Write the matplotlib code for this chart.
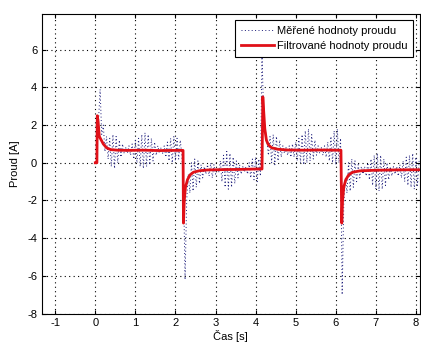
import matplotlib
matplotlib.use("Agg")
import matplotlib.pyplot as plt
import numpy as np

plt.rcParams['font.family'] = ['Liberation Sans', 'DejaVu Sans']
plt.rcParams['axes.unicode_minus'] = False

# measured current, sampled every 0.04 s, split in the four half-periods
dt = 0.04
seg_start = [0.04, 2.20, 4.16, 6.16]
meas_seg1 = [1.2, 2.2, 3.9, 1.5, 2.0, 0.6, 1.4, 0.2, 1.3, -0.2, 1.5, -0.3, 1.4, 0.0, 1.2, 0.3,
             1.0, 0.5, 0.8, 0.5, 0.9, 0.4, 1.0, 0.2, 1.2, 0.0, 1.3, -0.2, 1.5, -0.3, 1.6, -0.2,
             1.5, -0.1, 1.3, 0.1, 1.1, 0.4, 0.9, 0.5, 0.8, 0.5, 0.9, 0.3, 1.1, 0.1, 1.3, 0.0,
             1.4, 0.1, 1.3, 0.2, 1.2, 0.4]
meas_seg2 = [-1.0, -6.2, -2.0, -0.6, -1.6, 0.0, -1.5, 0.2, -1.3, 0.1, -1.1, -0.1, -0.8, -0.2,
             -0.6, -0.1, -0.7, 0.0, -0.8, -0.1, -0.6, -0.3, -0.5, 0.1, -1.0, 0.4, -1.3, 0.6,
             -1.4, 0.5, -1.3, 0.3, -1.1, 0.1, -0.8, -0.1, -0.6, -0.2, -0.5, -0.2, -0.6, 0.0,
             -0.8, 0.2, -0.9, 0.3, -1.0, 0.2, -0.7]
meas_seg3 = [5.8, 2.5, 1.8, 1.2, 0.4, 1.4, 0.0, 1.5, -0.1, 1.4, 0.1, 1.2, 0.3, 0.9, 0.5, 0.8,
             0.4, 0.9, 0.3, 1.0, 0.3, 1.1, 0.1, 1.3, 0.0, 1.5, -0.1, 1.7, 0.0, 1.8, 0.1, 1.5,
             0.2, 1.2, 0.4, 0.9, 0.5, 0.8, 0.4, 0.9, 0.3, 1.1, 0.1, 1.4, 0.0, 1.7, -0.1, 1.8,
             0.0, 1.3]
meas_seg4 = [-7.0, -2.2, -0.8, -1.6, 0.0, -1.5, 0.2, -1.3, 0.1, -1.0, -0.1, -0.8, -0.2, -0.6,
             -0.2, -0.7, 0.0, -0.9, 0.2, -1.2, 0.4, -1.4, 0.5, -1.5, 0.4, -1.4, 0.2, -1.2,
             0.0, -0.9, -0.2, -0.7, -0.2, -0.6, -0.2, -0.7, -0.1, -0.8, 0.1, -1.0, 0.3, -1.2,
             0.4, -1.3, 0.5, -1.4, 0.3, -1.2, 0.1]

# filtered current (read at breakpoints)
t_filt = [0.0, 0.04, 0.05, 0.07, 0.10, 0.15, 0.20, 0.28, 0.38, 0.55, 0.8, 1.2, 1.6, 2.0, 2.19,
          2.20, 2.22, 2.25, 2.30, 2.36, 2.45, 2.6, 2.8, 3.2, 3.6, 4.0, 4.16,
          4.18, 4.20, 4.23, 4.27, 4.32, 4.40, 4.55, 4.8, 5.2, 5.6, 6.0, 6.13,
          6.15, 6.17, 6.20, 6.25, 6.32, 6.42, 6.6, 6.9, 7.4, 7.8, 8.1]
i_filt = [0.0, 0.0, 2.5, 2.2, 1.4, 1.2, 1.0, 0.8, 0.7, 0.67, 0.66, 0.67, 0.65, 0.66, 0.66,
          -3.2, -2.0, -1.3, -0.9, -0.65, -0.5, -0.42, -0.38, -0.36, -0.35, -0.33, -0.33,
          3.5, 2.8, 1.8, 1.2, 0.95, 0.8, 0.72, 0.68, 0.67, 0.68, 0.67, 0.67,
          -3.2, -2.0, -1.3, -0.9, -0.65, -0.5, -0.43, -0.4, -0.38, -0.37, -0.37]

t_meas, i_meas = [], []
for t0, seg in zip(seg_start, [meas_seg1, meas_seg2, meas_seg3, meas_seg4]):
    t_meas.extend(t0 + dt * np.arange(len(seg)))
    i_meas.extend(seg)

fig = plt.figure(figsize=(4.21, 3.44), dpi=100)
ax = fig.add_axes([42 / 421, 30.5 / 344, 377.5 / 421, 299.5 / 344])

ax.plot(t_meas, i_meas, linestyle=(0, (1, 2.5)), color='#1c1c7a', lw=0.7,
        label='Měřené hodnoty proudu')
ax.plot(t_filt, i_filt, '-', color='#e01018', lw=2, label='Filtrované hodnoty proudu')

ax.set_xlim(-1.33, 8.09)
ax.set_ylim(-8, 7.9)
ax.set_xticks(range(-1, 9))
ax.set_yticks(range(-8, 7, 2))
ax.grid(True, linestyle=(0, (1, 3)), color='black', lw=0.8)
ax.tick_params(direction='in', top=True, right=True, labelsize=8, length=3)
ax.set_xlabel('Čas [s]', fontsize=8, labelpad=1)
ax.set_ylabel('Proud [A]', fontsize=8, labelpad=5)

leg = ax.legend(loc='upper right', fontsize=8, fancybox=False, framealpha=1,
                edgecolor='black', handlelength=3.0, handletextpad=0.3,
                borderaxespad=0.55, borderpad=0.5, labelspacing=0.5)
leg.get_frame().set_linewidth(0.8)

fig.savefig('out.png', dpi=100)
